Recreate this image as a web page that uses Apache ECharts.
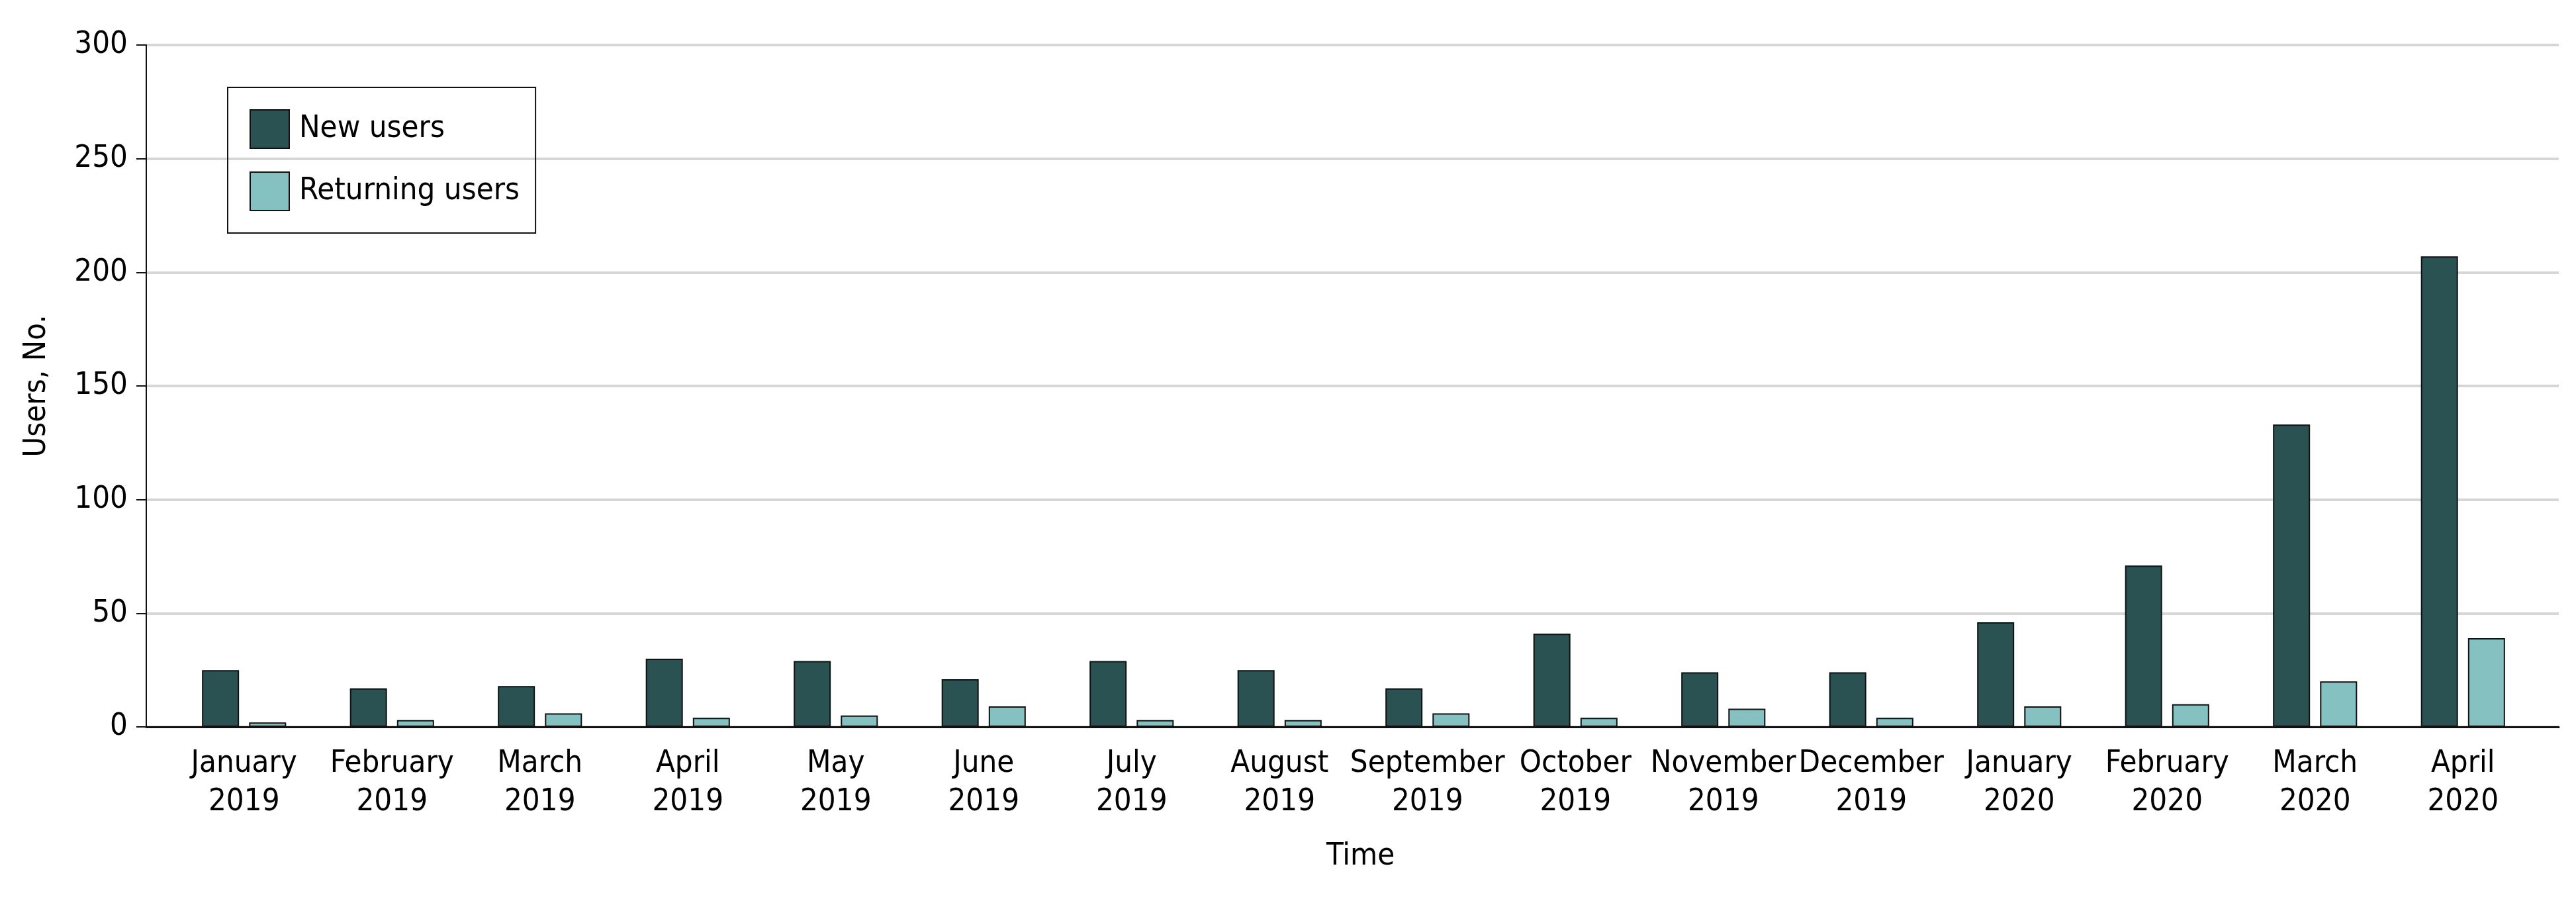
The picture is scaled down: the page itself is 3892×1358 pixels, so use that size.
<!DOCTYPE html>
<html>
<head>
<meta charset="utf-8">
<script src="https://cdn.jsdelivr.net/npm/echarts@6/dist/echarts.min.js"></script>
<style>
  html, body { margin: 0; padding: 0; background: #fff; }
  #chart { width: 3892px; height: 1358px; }
</style>
</head>
<body>
<div id="chart"></div>
<script>
// month labels (two lines) and counts
const months = [
  "January\n2019", "February\n2019", "March\n2019", "April\n2019",
  "May\n2019", "June\n2019", "July\n2019", "August\n2019",
  "September\n2019", "October\n2019", "November\n2019", "December\n2019",
  "January\n2020", "February\n2020", "March\n2020", "April\n2020",
];
const newUsers = [25, 17, 18, 30, 29, 21, 29, 25, 17, 41, 24, 24, 46, 71, 133, 207];
const returningUsers = [2, 3, 6, 4, 5, 9, 3, 3, 6, 4, 8, 4, 9, 10, 20, 39];
const yTicks = { min: 0, max: 300, interval: 50 };

const FONT = "'DejaVu Sans Condensed', 'DejaVu Sans', sans-serif";
const NEW_COLOR = "#2b5253";
const RET_COLOR = "#85c1c0";

const chart = echarts.init(document.getElementById("chart"), null, { renderer: "canvas" });

const plotTop = 68;
const plotBottom = 260;

chart.setOption({
  animation: false,
  backgroundColor: "#fff",
  textStyle: { fontFamily: FONT, color: "#000" },
  legend: {
    orient: "vertical",
    left: 344,
    top: 132,
    padding: [33, 24, 33, 33],
    itemGap: 34,
    itemWidth: 59,
    itemHeight: 58,
    borderColor: "#111",
    borderWidth: 2,
    icon: "rect",
    textStyle: { fontFamily: FONT, fontSize: 47, color: "#000", padding: [0, 0, 0, 10] },
    data: ["New users", "Returning users"],
  },
  grid: [
    // frame: y axis, gridlines and baseline
    { left: 221, right: 26, top: plotTop, bottom: plotBottom },
    // bars, with the categories inset from the frame
    { left: 257, right: 59, top: plotTop, bottom: plotBottom },
  ],
  xAxis: [
    {
      gridIndex: 0,
      type: "value",
      min: 0,
      max: 1,
      axisLine: { show: true, lineStyle: { color: "#111", width: 3 } },
      axisTick: { show: false },
      axisLabel: { show: false },
      splitLine: { show: false },
    },
    {
      gridIndex: 1,
      type: "category",
      data: months,
      axisLine: { show: false },
      axisTick: { show: false },
      axisLabel: {
        interval: 0,
        margin: 27,
        fontFamily: FONT,
        fontSize: 47,
        lineHeight: 58,
        color: "#000",
      },
    },
  ],
  yAxis: [
    {
      gridIndex: 0,
      type: "value",
      min: yTicks.min,
      max: yTicks.max,
      interval: yTicks.interval,
      name: "Users, No.",
      nameLocation: "middle",
      nameGap: 142,
      nameTextStyle: { fontFamily: FONT, fontSize: 47, color: "#000" },
      axisLine: { show: true, lineStyle: { color: "#111", width: 2 } },
      axisTick: { show: true, length: 15, lineStyle: { color: "#111", width: 2 } },
      axisLabel: { margin: 28, fontFamily: FONT, fontSize: 47, color: "#000" },
      splitLine: { show: true, lineStyle: { color: "#d6d6d6", width: 4 } },
    },
    {
      gridIndex: 1,
      type: "value",
      min: yTicks.min,
      max: yTicks.max,
      interval: yTicks.interval,
      show: false,
      splitLine: { show: false },
    },
  ],
  graphic: [
    {
      type: "text",
      left: 2004,
      top: 1270,
      style: { text: "Time", font: "47px " + FONT, fill: "#000", textAlign: "center" },
    },
  ],
  series: [
    {
      name: "New users",
      type: "bar",
      xAxisIndex: 1,
      yAxisIndex: 1,
      data: newUsers,
      barWidth: 56,
      barGap: "27%",
      itemStyle: { color: NEW_COLOR, borderColor: "#111", borderWidth: 2 },
    },
    {
      name: "Returning users",
      type: "bar",
      xAxisIndex: 1,
      yAxisIndex: 1,
      data: returningUsers,
      barWidth: 56,
      barGap: "27%",
      itemStyle: { color: RET_COLOR, borderColor: "#111", borderWidth: 2 },
    },
  ],
});
</script>
</body>
</html>
